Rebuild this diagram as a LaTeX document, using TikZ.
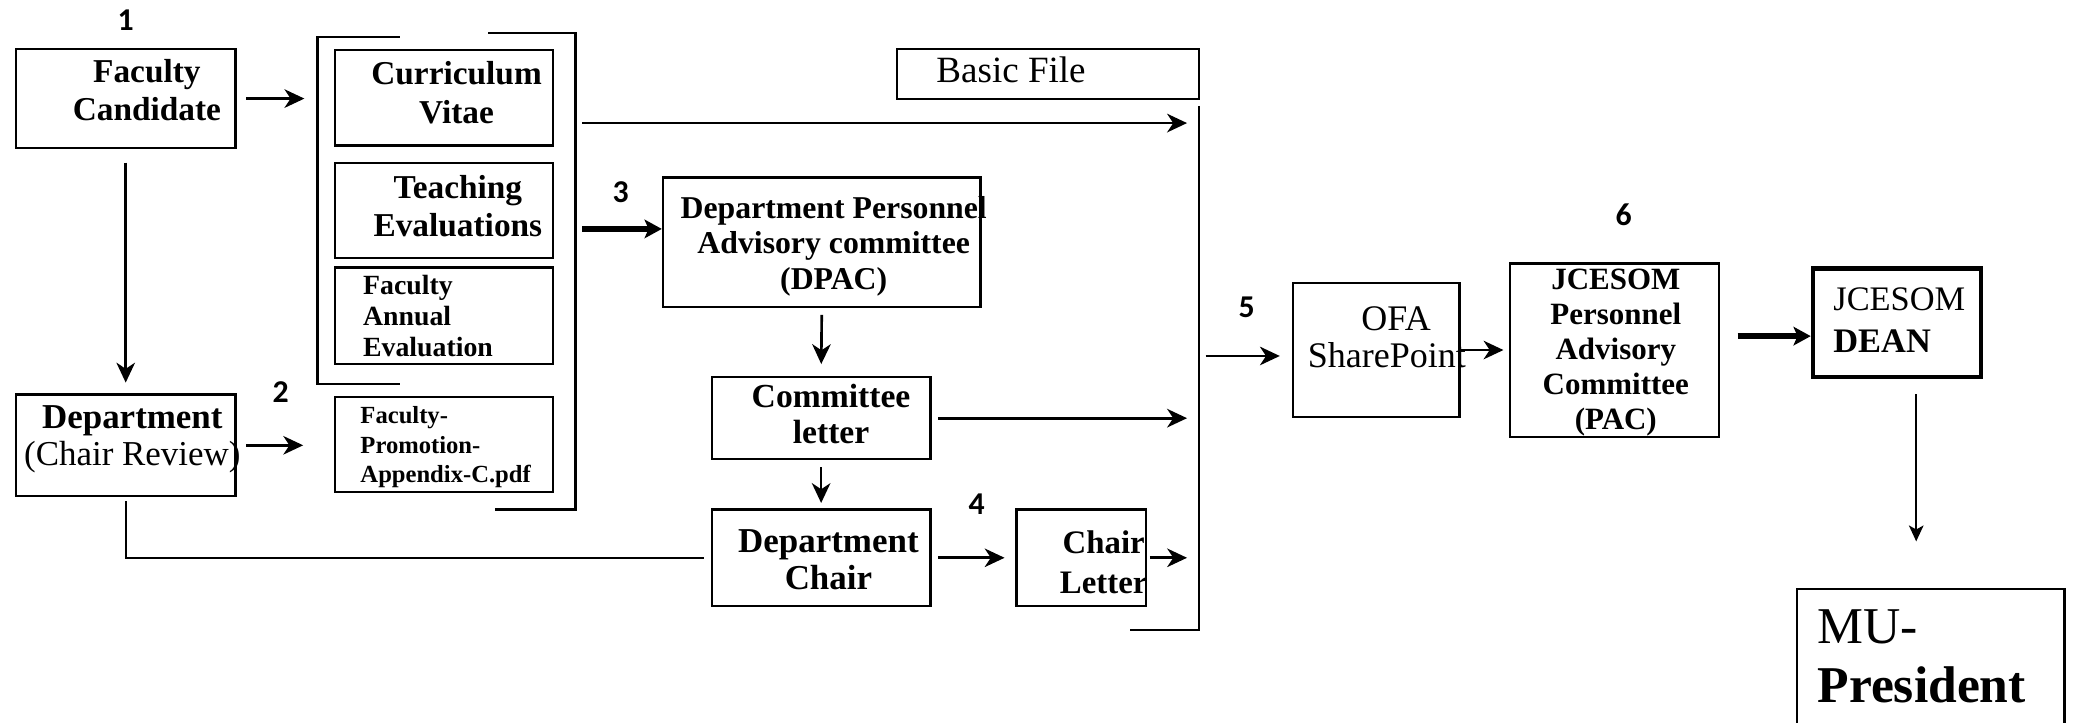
\documentclass[tikz,border=0pt]{standalone}
\usepackage{fontspec}
\setmainfont{Liberation Serif}
\newfontfamily\numfont{Carlito}
\usetikzlibrary{arrows.meta,fit}
\begin{document}
\begin{tikzpicture}[x=0.5pt,y=-0.5pt,
  box/.style={draw, line width=0.9pt, inner sep=0pt},
  bt/.style={inner sep=0pt, align=center, font=\bfseries\fontsize{12.6}{14.5}\selectfont},
  rt/.style={inner sep=0pt, align=center, font=\fontsize{13.6}{14}\selectfont},
  num/.style={inner sep=0pt, font=\numfont\bfseries\fontsize{12}{14}\selectfont},
  arr/.style={line width=1pt, -{Stealth[length=7.5pt,width=7pt,inset=2.3pt]}},
  thickarr/.style={line width=2.3pt, -{Stealth[length=6.5pt,width=7pt,inset=1.5pt]}},
  ln/.style={line width=0.9pt},
]
\useasboundingbox (0,0) rectangle (1568,546);

% boxes
\node[box, fit={(12,37) (178,112)}] (fc) {};
\node[box, fit={(253,38) (418,110)}] (cv) {};
\node[box, fit={(253,123) (418,195)}] (te) {};
\node[box, fit={(253,202) (418,275)}] (fae) {};
\node[box, fit={(253,300) (418,372)}] (app) {};
\node[box, fit={(12,298) (178,375)}] (dept) {};
\node[box, fit={(678,37) (906,75)}] (basic) {};
\node[box, fit={(501,134) (741,232)}] (dpac) {};
\node[box, fit={(538,285) (703,347)}] (cl) {};
\node[box, fit={(538,385) (703,458)}] (dc) {};
\node[box, fit={(768,385) (866,458)}] (chl) {};
\node[box, fit={(977,214) (1103,315)}] (ofa) {};
\node[box, fit={(1141,199) (1299,330)}] (pac) {};
\node[box, line width=1.7pt, fit={(1370,203) (1497,285)}] (dean) {};
\node[box, fit={(1358,445) (1560,580)}] (pres) {};

% texts
\node[bt] (fct) at (111,68) {Faculty\\Candidate};
\node[bt] (cvt) at (345,70) {Curriculum\\Vitae};
\node[bt] (tet) at (346,156) {Teaching\\Evaluations};
\node[bt, align=left, anchor=west, font=\bfseries\fontsize{10.5}{11.75}\selectfont] (faet) at (274,239) {Faculty\\Annual\\Evaluation};
\node[bt, align=left, anchor=west, font=\bfseries\fontsize{9.3}{11.25}\selectfont] (appt) at (272,338) {Faculty-\\Promotion-\\Appendix-C.pdf};
\node[bt, font=\fontsize{13.2}{14}\selectfont] (deptt) at (100,332) {\textbf{Department}\\(Chair Review)};
\node[rt, font=\fontsize{14}{16}\selectfont] (basict) at (764,53) {Basic File};
\node[bt, font=\bfseries\fontsize{12}{13.5}\selectfont] (dpact) at (630,186) {Department Personnel\\Advisory committee\\(DPAC)};
\node[bt, font=\bfseries\fontsize{12.7}{13.5}\selectfont] (clt) at (628,313) {Committee\\letter};
\node[bt, font=\bfseries\fontsize{13.2}{14}\selectfont] (dct) at (626,423) {Department\\Chair};
\node[bt, font=\bfseries\fontsize{12.4}{15}\selectfont] (chlt) at (834,425) {Chair\\Letter};
\node[rt] (ofat) at (1048,255) {\hspace*{7pt}OFA\\SharePoint};
\node[bt, font=\bfseries\fontsize{11.7}{13.2}\selectfont] (pact) at (1221,266.5) {JCESOM\\Personnel\\Advisory\\Committee\\(PAC)};
\node[rt, align=left, anchor=west, font=\fontsize{13}{16}\selectfont] (deant) at (1385,242) {JCESOM\\\textbf{DEAN}};
\node[rt, align=left, anchor=west, font=\fontsize{19.5}{22}\selectfont] (prest) at (1373,496) {MU-\\\textbf{President}};

% step numbers
\node[num] (n1) at (95,15) {1};
\node[num] (n2) at (212,296) {2};
\node[num] (n3) at (469,145) {3};
\node[num] (n4) at (738,381) {4};
\node[num] (n5) at (942,232) {5};
\node[num] (n6) at (1227,162) {6};

% brackets and collector
\coordinate (brL) at (240,28);
\coordinate (brLb) at (240,290);
\coordinate (brR) at (435,25);
\coordinate (brRb) at (435,385);
\coordinate (colT) at (906,80);
\coordinate (colB) at (906,476);
\draw[ln] (302,28) -- (brL) -- (brLb) -- (302,290);
\draw[ln] (369,25) -- (brR) -- (brRb) -- (374,385);
\draw[ln] (colT) -- (colB) -- (854,476);

% connectors
\coordinate (bfs) at (440,93);
\coordinate (ths) at (440,173);
\coordinate (c5) at (911,269);
\coordinate (c6) at (1313,254);
\coordinate (d1) at (1448,298);
\draw[arr, shorten <=3.5pt, shorten >=5pt] (fc.east) -- (fc.east -| brL);
\draw[arr, shorten <=5pt, shorten >=4pt] (fc.south) -- (dept.north);
\draw[arr, shorten <=3.5pt, shorten >=11.5pt] (dept.east) -- (app.west |- dept.east);
\draw[ln, shorten <=1.5pt, shorten >=2.5pt] (dept.south) |- (dc.west);
\draw[arr, shorten >=4.5pt] (bfs) -- (bfs -| colT);
\draw[thickarr] (ths) -- (ths -| dpac.west);
\draw[arr, shorten <=2.5pt, shorten >=4.5pt] (dpac.south) -- (cl.north);
\draw[arr, shorten <=2.5pt, shorten >=4.5pt] (cl.east) -- (cl.east -| colT);
\draw[arr, shorten <=2.5pt, shorten >=2pt] (cl.south) -- (dc.north);
\draw[arr, shorten <=2.5pt, shorten >=4pt] (dc.east) -- (chl.west);
\draw[arr, shorten <=1pt, shorten >=4.5pt] (chl.east) -- (chl.east -| colT);
\draw[arr, shorten >=4.5pt] (c5) -- (c5 -| ofa.west);
\draw[arr, shorten >=2pt] (ofa.east) -- (pac.west);
\draw[thickarr] (c6) -- (c6 -| dean.west);
\draw[arr, line width=0.8pt, -{Stealth[length=6pt,width=5.5pt,inset=1.5pt]}, shorten >=17.5pt] (d1) -- (d1 |- pres.north);
\end{tikzpicture}
\end{document}
